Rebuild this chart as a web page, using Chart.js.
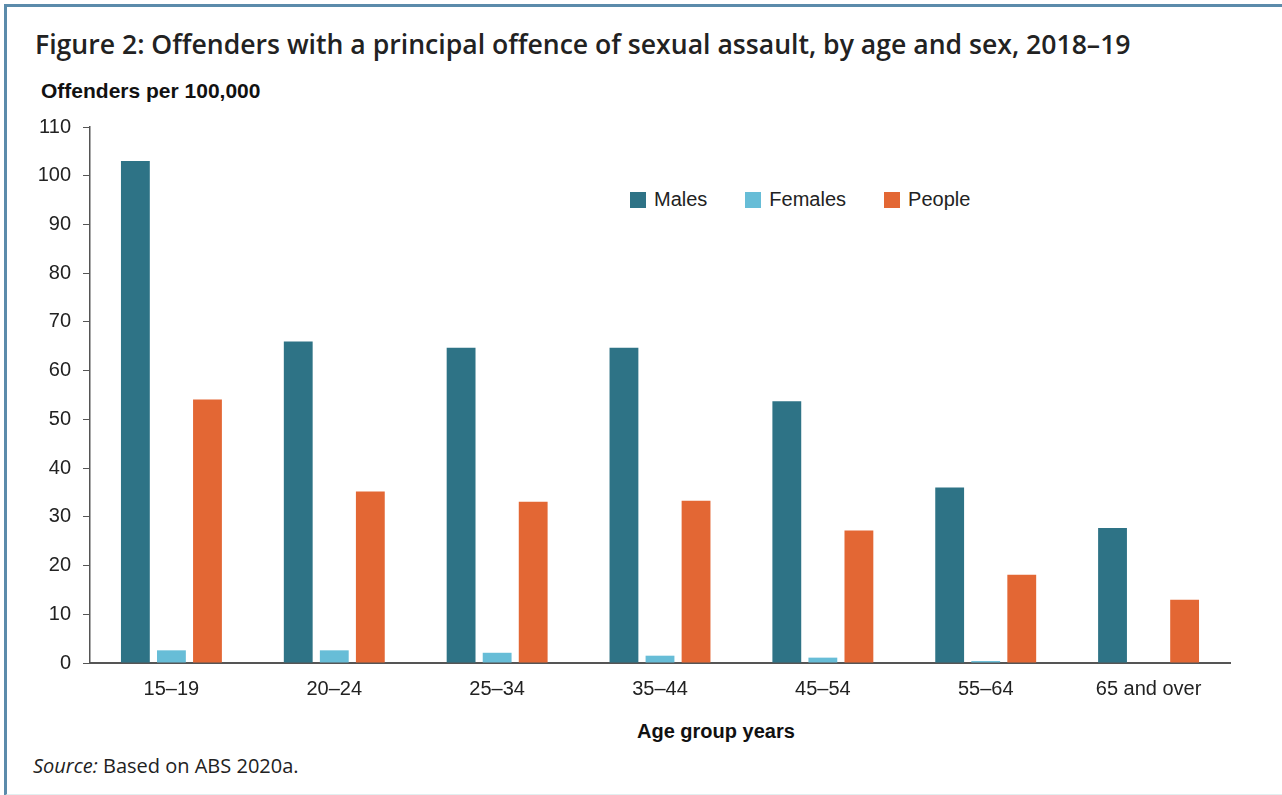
<!DOCTYPE html>
<html>
<head>
<meta charset="utf-8">
<script src="https://cdn.jsdelivr.net/npm/chart.js@4.4.1/dist/chart.umd.min.js"></script>
<style>
  html, body { margin: 0; padding: 0; background: #fff; }
  body { width: 1282px; height: 795px; position: relative; overflow: hidden; }
  #frame {
    position: absolute; left: 4px; top: 4px; width: 1300px; height: 787px;
    border-left: 3px solid #5b8bab; border-top: 3px solid #5b8bab;
    border-bottom: 2px solid #e2eff0;
  }
  #title {
    position: absolute; left: 35px; top: 26px; margin: 0;
    font: 600 26.6px "Open Sans", sans-serif; color: #222; white-space: nowrap;
  }
  #yTitle {
    position: absolute; left: 41px; top: 79px;
    font: bold 21px "Liberation Sans", Arial, sans-serif; color: #111;
  }
  #xTitle {
    position: absolute; left: 637px; top: 720px;
    font: bold 20px "Liberation Sans", Arial, sans-serif; color: #111;
  }
  #legend {
    position: absolute; left: 630px; top: 188px; display: flex;
    font: 20px "Liberation Sans", Arial, sans-serif; color: #222;
  }
  #legend .item { display: flex; align-items: center; margin-right: 38px; }
  #legend .box { width: 16px; height: 16px; margin-right: 8px; }
  #source {
    position: absolute; left: 33px; top: 752px;
    font: 20px "Open Sans", sans-serif; color: #222;
  }
  canvas { position: absolute; left: 0; top: 0; }
</style>
</head>
<body>
<div id="frame"></div>
<h1 id="title">Figure 2: Offenders with a principal offence of sexual assault, by age and sex, 2018–19</h1>
<div id="yTitle">Offenders per 100,000</div>
<div id="xTitle">Age group years</div>
<div id="legend"></div>
<div id="source"><i>Source:</i> Based on ABS 2020a.</div>
<canvas id="chart" width="1282" height="795"></canvas>
<script>
// age groups (x axis)
const ageGroups = ['15–19', '20–24', '25–34', '35–44', '45–54', '55–64', '65 and over'];

// offenders per 100,000
const males   = [103, 66, 64.7, 64.7, 53.7, 36, 27.7];
const females = [2.6, 2.6, 2.1, 1.5, 1.1, 0.4, 0.1];
const people  = [54.1, 35.2, 33.1, 33.3, 27.2, 18.1, 13];

const seriesNames  = ['Males', 'Females', 'People'];
const seriesColors = ['#2e7386', '#67bdd7', '#e36734'];

const yTicks = [0, 10, 20, 30, 40, 50, 60, 70, 80, 90, 100, 110];

// legend sits inside the plot, so build it as html
const legend = document.getElementById('legend');
seriesNames.forEach(function (name, i) {
  const item = document.createElement('div');
  item.className = 'item';
  item.innerHTML = '<span class="box" style="background:' + seriesColors[i] + '"></span>' + name;
  legend.appendChild(item);
});

Chart.defaults.font.family = '"Liberation Sans", Arial, sans-serif';
Chart.defaults.font.size = 20;
Chart.defaults.color = '#222';

const values = [males, females, people];

new Chart(document.getElementById('chart'), {
  type: 'bar',
  data: {
    labels: ageGroups,
    datasets: seriesNames.map(function (name, i) {
      return {
        label: name,
        data: values[i],
        backgroundColor: seriesColors[i],
        categoryPercentage: 0.664,
        barPercentage: 0.8
      };
    })
  },
  options: {
    responsive: false,
    animation: false,
    layout: { padding: { left: 0, right: 52, top: 127, bottom: 46 } },
    plugins: {
      legend: { display: false },
      tooltip: { enabled: false }
    },
    scales: {
      x: {
        grid: { display: false, drawTicks: false },
        border: { color: '#555', width: 2 },
        ticks: { padding: 14, maxRotation: 0 },
        afterFit: function (scale) { scale.height = 86; }
      },
      y: {
        min: 0,
        max: 110,
        afterBuildTicks: function (scale) {
          scale.ticks = yTicks.map(function (v) { return { value: v }; });
        },
        grid: { drawOnChartArea: false, drawTicks: true, tickLength: 7, color: '#555' },
        border: { color: '#555', width: 1.5 },
        ticks: { padding: 12 },
        afterFit: function (scale) { scale.width = 90; }
      }
    }
  }
});
</script>
</body>
</html>
